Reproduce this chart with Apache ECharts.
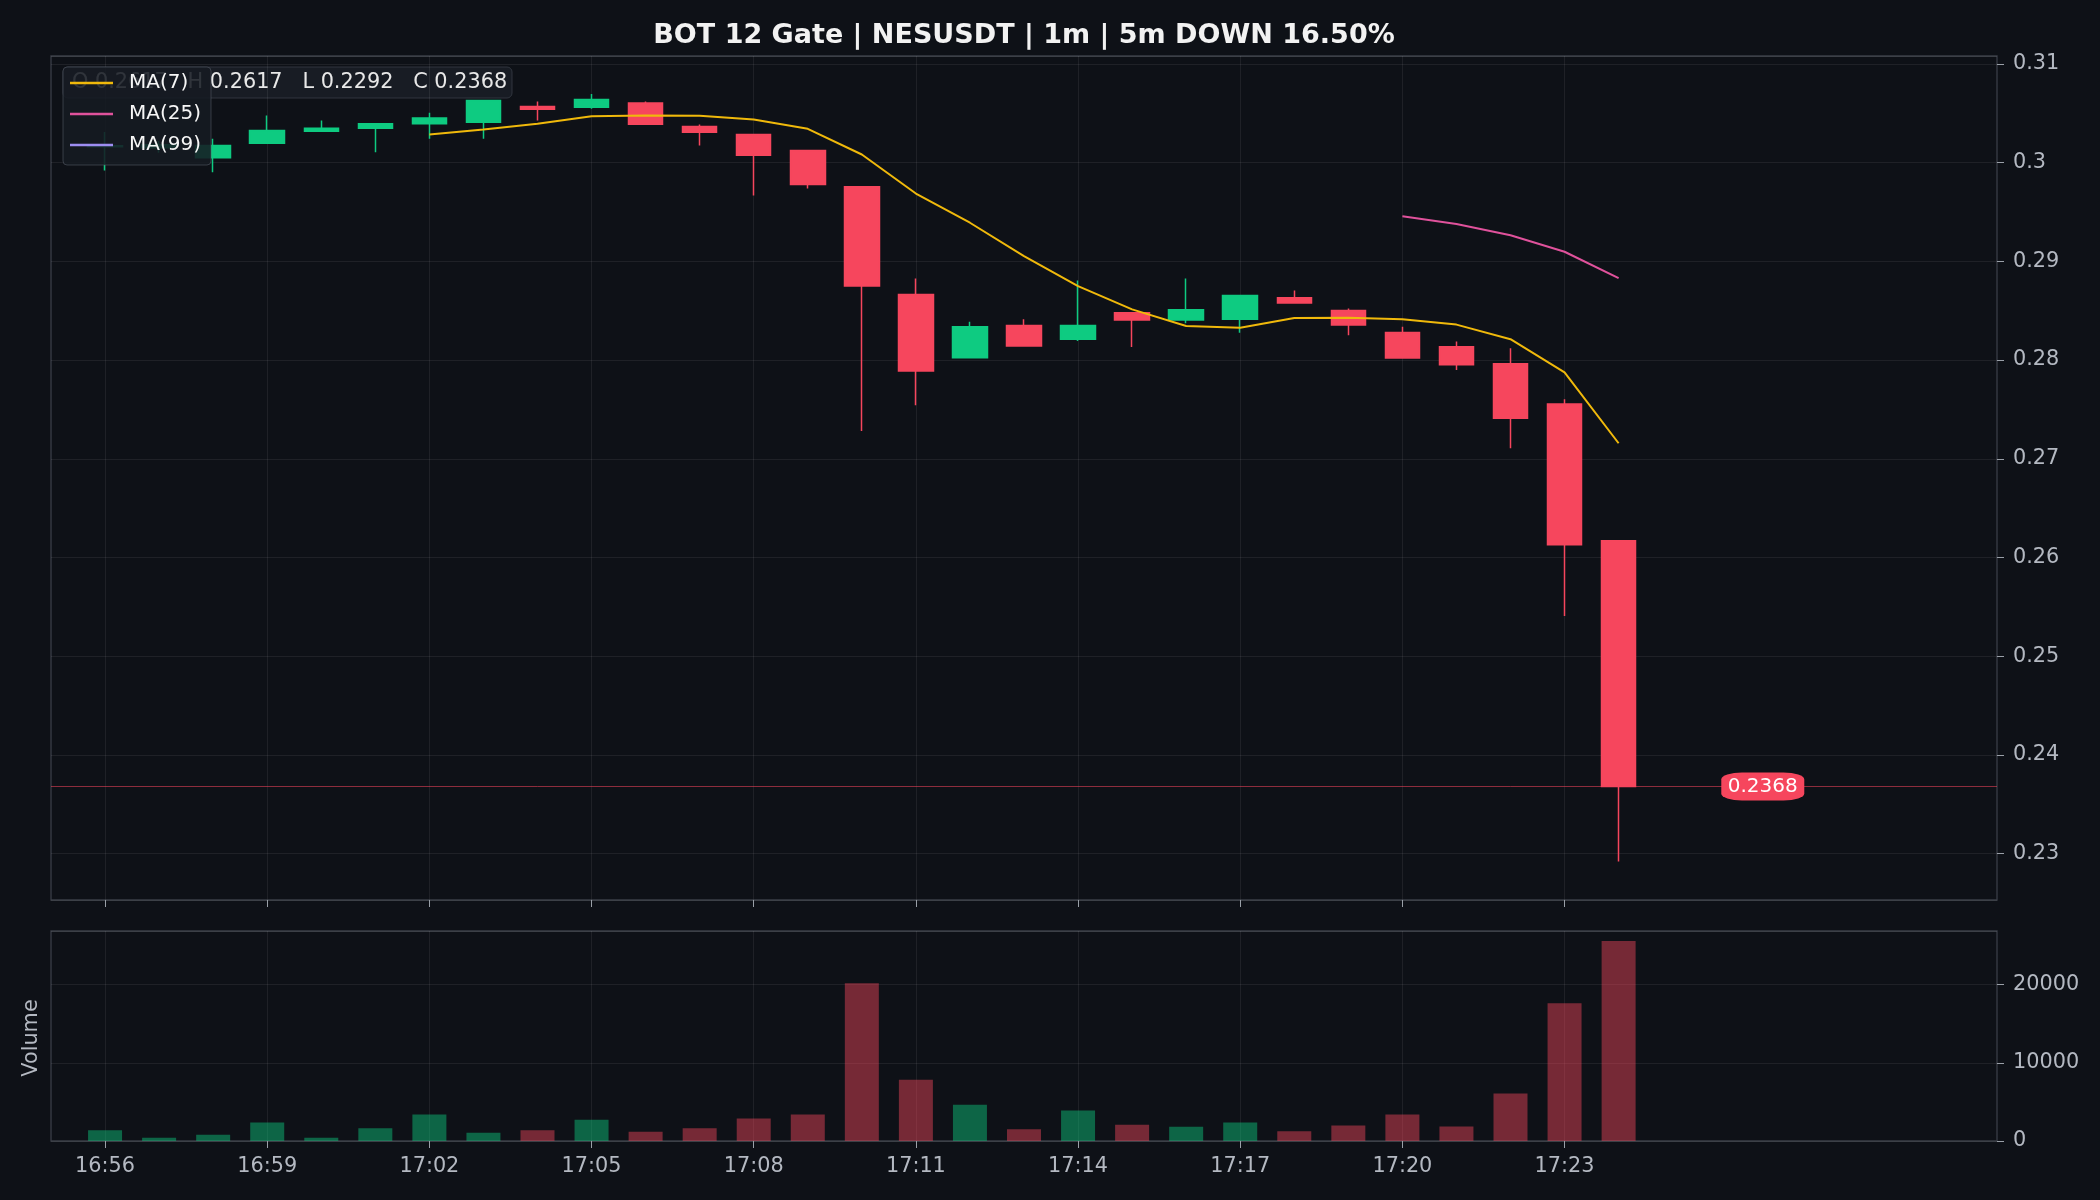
<!DOCTYPE html>
<html>
<head>
<meta charset="utf-8">
<title>NESUSDT 1m</title>
<script src="https://cdn.jsdelivr.net/npm/echarts@6/dist/echarts.min.js"></script>
<style>
  html, body { margin: 0; padding: 0; background: #0e1117; }
  #chart { width: 2100px; height: 1200px; }
</style>
</head>
<body>
<div id="chart"></div>
<script>
// axis categories (one per minute, incl. empty room left/right)
const axisTimes = ["16:55", "16:56", "16:57", "16:58", "16:59", "17:00", "17:01", "17:02", "17:03", "17:04",
  "17:05", "17:06", "17:07", "17:08", "17:09", "17:10", "17:11", "17:12", "17:13", "17:14", "17:15",
  "17:16", "17:17", "17:18", "17:19", "17:20", "17:21", "17:22", "17:23", "17:24", "17:25", "17:26",
  "17:27", "17:28", "17:29", "17:30", "17:31"];
const tickLabels = ["16:56", "16:59", "17:02", "17:05", "17:08", "17:11", "17:14", "17:17", "17:20", "17:23"];

// candle data
const times = ["16:56", "16:57", "16:58", "16:59", "17:00", "17:01", "17:02", "17:03", "17:04", "17:05",
  "17:06", "17:07", "17:08", "17:09", "17:10", "17:11", "17:12", "17:13", "17:14", "17:15", "17:16",
  "17:17", "17:18", "17:19", "17:20", "17:21", "17:22", "17:23", "17:24"];
const opens = [0.3016, 0.3015, 0.30049, 0.30196, 0.30318, 0.30348, 0.30393, 0.30409, 0.30568, 0.30561,
  0.30605, 0.30365, 0.30284, 0.30122, 0.29755, 0.28665, 0.28024, 0.28351, 0.28210, 0.28480, 0.28405,
  0.28412, 0.28632, 0.28503, 0.28280, 0.28134, 0.27962, 0.27555, 0.2617];
const closes = [0.3017, 0.3018, 0.30173, 0.30325, 0.30348, 0.30393, 0.30453, 0.30629, 0.30540, 0.30639,
  0.30389, 0.30308, 0.30075, 0.29778, 0.28749, 0.27889, 0.28338, 0.28142, 0.28351, 0.28405, 0.28510,
  0.28655, 0.28577, 0.28354, 0.28020, 0.27953, 0.27410, 0.26129, 0.2368];
const lows = [0.2992, 0.3010, 0.29903, 0.30196, 0.30318, 0.30105, 0.30241, 0.30241, 0.30426, 0.30545,
  0.30389, 0.30173, 0.29667, 0.29738, 0.27281, 0.27542, 0.28024, 0.28142, 0.28192, 0.28132, 0.28372,
  0.28277, 0.28577, 0.28250, 0.28020, 0.27898, 0.27106, 0.25406, 0.2292];
const highs = [0.3031, 0.3022, 0.30241, 0.30477, 0.30426, 0.30393, 0.30504, 0.30629, 0.30618, 0.30696,
  0.30618, 0.30386, 0.30290, 0.30122, 0.29755, 0.28827, 0.28389, 0.28412, 0.28807, 0.28480, 0.28827,
  0.28655, 0.28705, 0.28523, 0.28338, 0.28187, 0.28119, 0.27604, 0.2617];
const volumes = [1360, 425, 807, 2378, 425, 1614, 3397, 1062, 1359, 2718, 1189, 1614, 2887, 3397, 20170,
  7813, 4628, 1486, 3907, 2081, 1826, 2378, 1231, 1996, 3397, 1868, 6072, 17622, 25563];

// moving averages as drawn
const ma7 = [null, null, null, null, null, null, 0.30284, 0.30335, 0.30393, 0.30470, 0.30477, 0.30474,
  0.30436, 0.30342, 0.30082, 0.29687, 0.29391, 0.29053, 0.28749, 0.28513, 0.28344, 0.28328, 0.28425,
  0.28429, 0.28414, 0.28359, 0.28211, 0.27875, 0.27157];
const ma25 = [null, null, null, null, null, null, null, null, null, null, null, null, null, null, null,
  null, null, null, null, null, null, null, null, null, 0.29456, 0.29378, 0.29264, 0.29097, 0.28830];
const ma99 = [];

const UP = "#0ecb81";
const DOWN = "#f6465d";
const TXT = "#b4b9c2";
const FONT = "DejaVu Sans";

// 把数据对齐到坐标轴的分类上
const idxOf = (t) => times.indexOf(t);
const candleData = axisTimes.map((t) => {
  const i = idxOf(t);
  return i < 0 ? "-" : [opens[i], closes[i], lows[i], highs[i]];
});
const volData = axisTimes.map((t) => {
  const i = idxOf(t);
  if (i < 0) return "-";
  const up = closes[i] >= opens[i];
  return {
    value: volumes[i],
    itemStyle: { color: up ? "rgba(14,203,129,0.45)" : "rgba(246,70,93,0.45)" },
  };
});
const lineData = (arr) => axisTimes.map((t) => {
  const i = idxOf(t);
  return i < 0 || arr[i] == null ? "-" : arr[i];
});

const last = times.length - 1;
const lastClose = closes[last];
const infoText =
  "O " + opens[last].toFixed(4) + "   H " + highs[last].toFixed(4) +
  "   L " + lows[last].toFixed(4) + "   C " + lastClose.toFixed(4);

const showTick = (idx, val) => tickLabels.indexOf(val) >= 0;

const option = {
  backgroundColor: "#0e1117",
  animation: false,
  textStyle: { fontFamily: FONT },
  grid: [
    { left: 51, right: 103, top: 56, height: 844, show: true, borderColor: "#3a3e47", borderWidth: 1.3, backgroundColor: "#0e1117" },
    { left: 51, right: 103, top: 931, height: 210, show: true, borderColor: "#3a3e47", borderWidth: 1.3, backgroundColor: "#0e1117" },
  ],
  legend: {
    data: ["MA(7)", "MA(25)", "MA(99)"],
    orient: "vertical",
    left: 63,
    top: 67,
    padding: [6, 10, 10, 7],
    itemGap: 11,
    itemWidth: 43,
    itemHeight: 2.5,
    icon: "rect",
    backgroundColor: "rgba(22,26,34,0.88)",
    borderColor: "rgba(90,95,105,0.55)",
    borderWidth: 1,
    borderRadius: 4,
    z: 10,
    textStyle: { color: "#f6f6f6", fontSize: 20, fontFamily: FONT, padding: [0, 0, 0, 11] },
  },
  xAxis: [
    {
      type: "category",
      gridIndex: 0,
      data: axisTimes,
      boundaryGap: false,
      axisLine: { show: false },
      axisTick: { show: true, interval: showTick, length: 7, lineStyle: { color: "#9aa0a8" } },
      axisLabel: { show: false },
      splitLine: { show: true, interval: showTick, lineStyle: { color: "rgba(255,255,255,0.07)" } },
    },
    {
      type: "category",
      gridIndex: 1,
      data: axisTimes,
      boundaryGap: false,
      axisLine: { show: false },
      axisTick: { show: true, interval: showTick, length: 7, lineStyle: { color: "#9aa0a8" } },
      axisLabel: { show: true, interval: showTick, color: TXT, fontSize: 20.8, fontFamily: FONT, margin: 15 },
      splitLine: { show: true, interval: showTick, lineStyle: { color: "rgba(255,255,255,0.07)" } },
    },
  ],
  yAxis: [
    {
      type: "value",
      gridIndex: 0,
      position: "right",
      min: 0.2253,
      max: 0.3108,
      splitNumber: 8,
      axisLine: { show: false },
      axisTick: { show: true, length: 7, lineStyle: { color: "#9aa0a8" } },
      axisLabel: {
        color: TXT, fontSize: 20.8, fontFamily: FONT, margin: 16, padding: [6, 0, 0, 0],
        showMinLabel: false, showMaxLabel: false,
      },
      splitLine: { show: true, lineStyle: { color: "rgba(255,255,255,0.07)" } },
    },
    {
      type: "value",
      gridIndex: 1,
      position: "right",
      min: 0,
      max: 26841,
      interval: 10000,
      axisLine: { show: false },
      axisTick: { show: true, length: 7, lineStyle: { color: "#9aa0a8" } },
      axisLabel: {
        color: TXT, fontSize: 20.8, fontFamily: FONT, margin: 16, padding: [5, 0, 0, 0], showMaxLabel: false,
        formatter: (v) => String(v),
      },
      splitLine: { show: true, lineStyle: { color: "rgba(255,255,255,0.07)" } },
    },
  ],
  graphic: [
    {
      type: "text",
      x: 1024,
      y: 36,
      style: { text: "BOT 12 Gate | NESUSDT | 1m | 5m DOWN 16.50%", fill: "#f2f2f2", font: "bold 27px 'DejaVu Sans'", align: "center", verticalAlign: "middle" },
    },
    {
      type: "text",
      x: 32,
      y: 1038,
      rotation: Math.PI / 2,
      style: { text: "Volume", fill: TXT, font: "20.8px 'DejaVu Sans'", align: "center", verticalAlign: "middle" },
    },
    {
      type: "group",
      z: 1,
      children: [
        {
          type: "rect",
          shape: { x: 63, y: 67, width: 449, height: 31, r: 5 },
          style: { fill: "#181c24", stroke: "#30353e", lineWidth: 1 },
        },
        {
          type: "text",
          x: 72,
          y: 83,
          style: { text: infoText, fill: "#e8e8e8", font: "20.8px 'DejaVu Sans'", verticalAlign: "middle" },
        },
      ],
    },
  ],
  series: [
    {
      name: "K",
      type: "candlestick",
      xAxisIndex: 0,
      yAxisIndex: 0,
      data: candleData,
      barWidth: 35,
      itemStyle: { color: UP, color0: DOWN, borderColor: UP, borderColor0: DOWN, borderWidth: 1.5 },
      markPoint: {
        silent: true,
        symbol: "roundRect",
        symbolSize: [83, 28],
        symbolOffset: [-18, 0],
        itemStyle: { color: DOWN },
        label: { show: true, color: "#ffffff", fontSize: 20, fontFamily: FONT, formatter: () => lastClose.toFixed(4) },
        data: [{ coord: ["17:27", lastClose] }],
      },
    },
    {
      name: "MA(7)",
      type: "line",
      xAxisIndex: 0,
      yAxisIndex: 0,
      data: lineData(ma7),
      symbol: "none",
      color: "#f0b90b",
      lineStyle: { color: "#f0b90b", width: 2 },
      z: 5,
    },
    {
      name: "MA(25)",
      type: "line",
      xAxisIndex: 0,
      yAxisIndex: 0,
      data: lineData(ma25),
      symbol: "none",
      color: "#e0529c",
      lineStyle: { color: "#e0529c", width: 2 },
      z: 5,
    },
    {
      name: "MA(99)",
      type: "line",
      xAxisIndex: 0,
      yAxisIndex: 0,
      data: lineData(ma99),
      symbol: "none",
      color: "#9d8df1",
      lineStyle: { color: "#9d8df1", width: 2 },
      z: 5,
    },
    {
      // 最新价水平线
      name: "last",
      type: "line",
      xAxisIndex: 0,
      yAxisIndex: 0,
      data: [],
      symbol: "none",
      z: 1,
      markLine: {
        silent: true,
        symbol: "none",
        label: { show: false },
        lineStyle: { color: "rgba(246,70,93,0.55)", width: 1, type: "solid" },
        data: [[
          { coord: [axisTimes[0], lastClose] },
          { coord: [axisTimes[axisTimes.length - 1], lastClose] },
        ]],
      },
    },
    {
      name: "Volume",
      type: "bar",
      xAxisIndex: 1,
      yAxisIndex: 1,
      data: volData,
      barWidth: 34,
    },
  ],
};

const chart = echarts.init(document.getElementById("chart"));
chart.setOption(option);
</script>
</body>
</html>
